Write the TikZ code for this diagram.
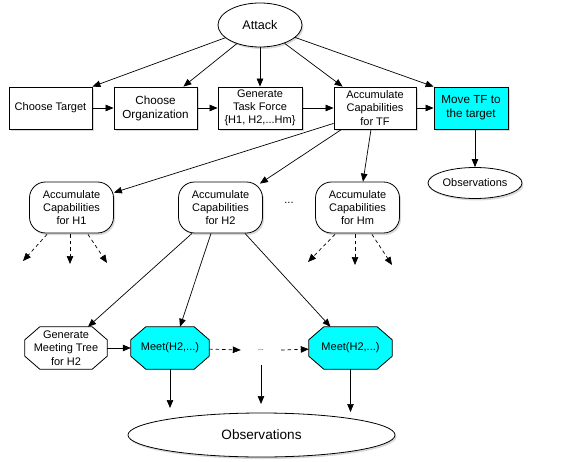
\documentclass[tikz,border=0pt]{standalone}
\usepackage{fontspec}
\setmainfont{Liberation Sans}
\usetikzlibrary{arrows.meta,shapes.geometric,shadows,calc,backgrounds}
\definecolor{boxcyan}{RGB}{0,255,255}
\newcommand\octpath[1]{($(#1.north west)+(15,0)$) -- ($(#1.north east)+(-15,0)$) -- ($(#1.north east)+(0,13)$) -- ($(#1.south east)+(0,-13)$) -- ($(#1.south east)+(-15,0)$) -- ($(#1.south west)+(15,0)$) -- ($(#1.south west)+(0,-13)$) -- ($(#1.north west)+(0,13)$) -- cycle}
\tikzset{
  txt/.style={font=\fontsize{11}{13.3}\selectfont, align=center, inner sep=0pt},
  shad/.style={drop shadow={shadow xshift=1.5pt, shadow yshift=-2pt, opacity=0.3}},
  boxnode/.style={txt, draw, line width=0.8pt, fill=white, minimum height=42, shad},
  ellnode/.style={txt, ellipse, draw, line width=0.8pt, fill=white, shad},
  roundnode/.style={txt, draw, line width=0.8pt, fill=white, rounded corners=16pt, minimum width=84, minimum height=51, shad},
  octnode/.style={txt, minimum height=42},
  arr/.style={-{Triangle[length=8pt,width=6.5pt]}, line width=0.7pt},
  darr/.style={arr, dash pattern=on 3.5pt off 3pt},
}
\begin{document}
\begin{tikzpicture}[x=1pt,y=-1pt]
\useasboundingbox (0,0) rectangle (561,462);
% top row
\node[ellnode, minimum width=84, minimum height=44, font=\fontsize{12.6}{15}\selectfont] (attack) at (260,25) {Attack};
\node[boxnode, minimum width=83] (ct) at (50.5,108) {Choose Target};
\node[boxnode, minimum width=83, font=\fontsize{11.7}{14}\selectfont] (co) at (155.5,108) {Choose\\Organization};
\node[boxnode, minimum width=84] (gt) at (260,108) {Generate\\Task Force\\\{H1, H2,...Hm\}};
\node[boxnode, minimum width=82] (tf) at (375,108) {Accumulate\\Capabilities\\for TF};
\node[boxnode, minimum width=74, fill=boxcyan, font=\fontsize{11.7}{14}\selectfont] (mv) at (471,108) {Move TF to\\the target};
\node[ellnode, minimum width=94, minimum height=31] (obs1) at (475,183) {Observations};
% second row
\node[roundnode] (h1) at (71.5,207.5) {Accumulate\\Capabilities\\for H1};
\node[roundnode] (h2) at (220.5,207.5) {Accumulate\\Capabilities\\for H2};
\node[roundnode] (hm) at (357.5,207.5) {Accumulate\\Capabilities\\for Hm};
\node[txt] (dots) at (289,203) {...};
% third row
\node[octnode, minimum width=82] (gm) at (66,348) {Generate\\Meeting Tree\\for H2};
\node[octnode, minimum width=78] (m1) at (170,348) {Meet(H2,...)};
\node[octnode, minimum width=83] (m2) at (350.5,348) {Meet(H2,...)};
\node[txt, font=\fontsize{7}{8}\selectfont, minimum width=40, minimum height=30] (d2) at (261,350) {...};
\node[ellnode, minimum width=267, minimum height=44, font=\fontsize{13.6}{16}\selectfont] (obs2) at (261.5,435) {Observations};
\begin{pgfonlayer}{background}
  \fill[black, opacity=0.3, xshift=1.5pt, yshift=-2pt] \octpath{gm};
  \fill[black, opacity=0.3, xshift=1.5pt, yshift=-2pt] \octpath{m1};
  \fill[black, opacity=0.3, xshift=1.5pt, yshift=-2pt] \octpath{m2};
  \draw[fill=white, line width=0.8pt] \octpath{gm};
  \draw[fill=boxcyan, line width=0.8pt] \octpath{m1};
  \draw[fill=boxcyan, line width=0.8pt] \octpath{m2};
\end{pgfonlayer}
% free ends
\coordinate (h1a) at (23,261);
\coordinate (h1b) at (70,264);
\coordinate (h1c) at (107,263);
\coordinate (hma) at (308,262);
\coordinate (hmb) at (355,265);
\coordinate (hmc) at (392,265);
\coordinate (o1) at (170,408);
\coordinate (o2) at (261,404);
\coordinate (o3) at (350.5,412);
% edges
\draw[arr] (attack) -- (ct.north east);
\draw[arr] (attack) -- ([xshift=-14pt]co.north east);
\draw[arr] (attack) -- (gt);
\draw[arr] (attack) -- ([xshift=9pt]tf.north west);
\draw[arr] (attack) -- (mv.north west);
\draw[arr] (ct) -- (co);
\draw[arr] (co) -- (gt);
\draw[arr] (gt) -- (tf);
\draw[arr] (tf) -- (mv);
\draw[arr] (obs1.north |- mv.south) -- (obs1);
\draw[arr] ([yshift=6pt]tf.south west) -- ([yshift=-11pt]h1.north east);
\draw[arr] ([xshift=8pt]tf.south west) -- ([xshift=-3pt,yshift=-2pt]h2.north east);
\draw[arr] ([xshift=-4pt]tf.south) -- ([xshift=5.5pt]hm.north);
\draw[darr] ([xshift=-24.5pt,yshift=-1pt]h1.south) -- (h1a);
\draw[darr] ([xshift=-1.5pt,yshift=-1pt]h1.south) -- (h1b);
\draw[darr] ([xshift=16.5pt,yshift=-1pt]h1.south) -- (h1c);
\draw[darr] ([xshift=-22.5pt,yshift=-1pt]hm.south) -- (hma);
\draw[darr] ([xshift=-2.5pt,yshift=-1pt]hm.south) -- (hmb);
\draw[darr] ([xshift=14.5pt,yshift=-1pt]hm.south) -- (hmc);
\draw[arr] ([xshift=-28.5pt]h2.south) -- ([xshift=22pt]gm.north);
\draw[arr] ([xshift=-9.5pt]h2.south) -- ([xshift=10pt]m1.north);
\draw[arr] ([xshift=24.5pt]h2.south) -- ([xshift=-20pt]m2.north);
\draw[arr] (gm) -- (m1);
\draw[darr] (m1) -- (d2.west);
\draw[darr] (d2.east) -- (m2);
\draw[arr] (m1.south) -- (o1);
\draw[arr] (d2.south) -- (o2);
\draw[arr] (m2.south) -- (o3);
\end{tikzpicture}
\end{document}
